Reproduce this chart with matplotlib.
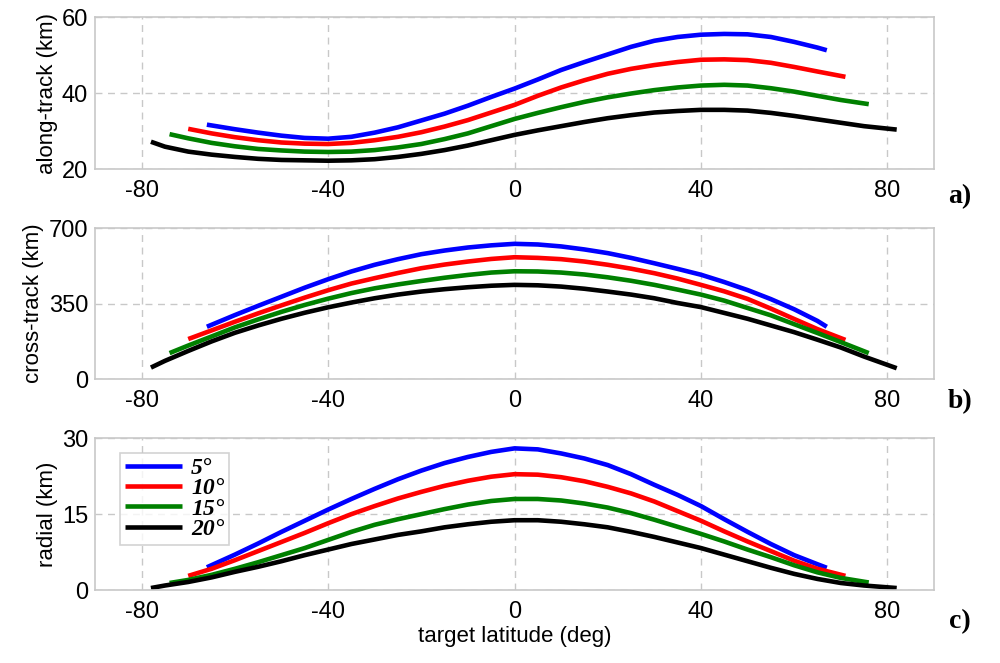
import matplotlib
matplotlib.use("Agg")
import matplotlib.pyplot as plt

# target latitude samples (deg), one list per elevation angle
LAT_5 = [-66, -60, -55, -50, -45, -40, -35, -30, -25, -20, -15, -10, -5, 0,
         5, 10, 15, 20, 25, 30, 35, 40, 45, 50, 55, 60, 65, 67]
LAT_10 = [-70, -65, -60, -55, -50, -45, -40, -35, -30, -25, -20, -15, -10, -5, 0,
          5, 10, 15, 20, 25, 30, 35, 40, 45, 50, 55, 60, 65, 71]
LAT_15 = [-74, -70, -65, -60, -55, -50, -45, -40, -35, -30, -25, -20, -15, -10, -5, 0,
          5, 10, 15, 20, 25, 30, 35, 40, 45, 50, 55, 60, 65, 70, 76]
LAT_20 = [-78, -75, -70, -65, -60, -55, -50, -45, -40, -35, -30, -25, -20, -15, -10, -5, 0,
          5, 10, 15, 20, 25, 30, 35, 40, 45, 50, 55, 60, 65, 70, 75, 82]

# along-track (km)
ALONG_5 = [31.7, 30.5, 29.6, 28.8, 28.2, 28.0, 28.5, 29.6, 31.0, 32.8, 34.6, 36.7, 39.0, 41.2,
           43.6, 46.1, 48.2, 50.2, 52.2, 53.8, 54.8, 55.4, 55.6, 55.5, 54.8, 53.5, 52.0, 51.3]
ALONG_10 = [30.6, 29.4, 28.4, 27.6, 27.0, 26.7, 26.6, 26.9, 27.6, 28.5, 29.7, 31.2, 32.9, 34.9, 36.9,
            39.3, 41.5, 43.4, 45.1, 46.4, 47.4, 48.2, 48.8, 48.9, 48.7, 48.0, 46.9, 45.7, 44.3]
ALONG_15 = [29.2, 28.1, 26.9, 26.0, 25.3, 24.9, 24.6, 24.5, 24.6, 25.0, 25.7, 26.6, 27.9, 29.4, 31.3, 33.2,
            34.8, 36.3, 37.7, 38.9, 39.9, 40.8, 41.5, 42.0, 42.2, 42.0, 41.3, 40.4, 39.3, 38.2, 37.1]
ALONG_20 = [27.2, 25.9, 24.6, 23.8, 23.2, 22.7, 22.4, 22.3, 22.2, 22.3, 22.6, 23.2, 24.0, 25.0, 26.2, 27.6, 29.0,
            30.2, 31.3, 32.4, 33.4, 34.2, 34.9, 35.3, 35.6, 35.6, 35.4, 34.8, 34.0, 33.1, 32.2, 31.3, 30.4]

# cross-track (km)
CROSS_5 = [243, 297, 340, 382, 424, 463, 499, 530, 556, 579, 596, 610, 620, 627,
           624, 615, 601, 584, 562, 537, 511, 484, 450, 413, 371, 324, 270, 243]
CROSS_10 = [186, 226, 266, 305, 342, 378, 412, 443, 468, 492, 514, 531, 545, 557, 565,
            562, 556, 545, 530, 512, 491, 466, 437, 407, 372, 327, 279, 232, 182]
CROSS_15 = [121, 156, 198, 240, 277, 312, 344, 373, 399, 421, 439, 455, 470, 483, 494, 500,
            499, 494, 485, 472, 456, 437, 415, 392, 364, 330, 296, 255, 214, 172, 121]
CROSS_20 = [54, 85, 131, 175, 215, 249, 280, 308, 333, 355, 375, 392, 406, 417, 426, 433, 437,
            435, 429, 419, 406, 392, 375, 353, 334, 307, 280, 249, 218, 183, 147, 105, 51]

# radial (km)
RADIAL_5 = [4.5, 7.0, 9.2, 11.5, 13.7, 15.9, 18.0, 20.0, 21.9, 23.6, 25.1, 26.3, 27.3, 28.0,
            27.8, 27.0, 26.0, 24.7, 22.9, 20.8, 18.8, 16.6, 14.0, 11.5, 9.1, 6.9, 5.1, 4.4]
RADIAL_10 = [2.8, 4.2, 5.9, 7.7, 9.5, 11.3, 13.2, 15.0, 16.6, 18.1, 19.4, 20.6, 21.6, 22.4, 22.9,
             22.8, 22.3, 21.5, 20.4, 19.1, 17.5, 15.6, 13.7, 11.6, 9.6, 7.7, 5.8, 4.2, 2.8]
RADIAL_15 = [1.4, 2.0, 3.0, 4.2, 5.5, 6.9, 8.3, 9.9, 11.5, 12.9, 14.0, 15.0, 16.0, 16.9, 17.6, 18.0,
             18.0, 17.7, 17.1, 16.3, 15.2, 13.9, 12.5, 11.1, 9.6, 8.0, 6.5, 4.9, 3.5, 2.4, 1.5]
RADIAL_20 = [0.4, 0.9, 1.6, 2.5, 3.6, 4.6, 5.7, 6.9, 8.0, 9.1, 10.0, 10.9, 11.6, 12.4, 13.0, 13.5, 13.8,
             13.8, 13.5, 13.0, 12.4, 11.5, 10.5, 9.4, 8.3, 7.0, 5.7, 4.4, 3.2, 2.2, 1.4, 0.9, 0.4]

LABELS = ["5°", "10°", "15°", "20°"]
COLORS = ["#0000ff", "#ff0000", "#008000", "#000000"]
LATS = [LAT_5, LAT_10, LAT_15, LAT_20]

plt.rcParams["font.family"] = ["Liberation Sans", "DejaVu Sans"]
plt.rcParams["axes.unicode_minus"] = False


def style_axis(ax, yticks, ylabel):
    ax.set_xlim(-90, 90)
    ax.set_ylim(yticks[0], yticks[-1])
    ax.set_xticks([-80, -40, 0, 40, 80])
    ax.set_yticks(yticks)
    ax.tick_params(length=0, labelsize=17)
    ax.tick_params(axis="x", pad=8)
    ax.tick_params(axis="y", pad=5)
    ax.grid(True, color="#c8c8c8", linestyle=(0, (5, 4)), linewidth=1)
    ax.set_axisbelow(True)
    for s in ax.spines.values():
        s.set_color("#c8c8c8")
        s.set_linewidth(1.2)
    ax.set_ylabel(ylabel, fontsize=16, labelpad=3)


def plot_panels():
    fig = plt.figure(figsize=(10, 6.63), dpi=100)
    ax1 = fig.add_axes([0.095, 0.745, 0.839, 0.229])
    ax2 = fig.add_axes([0.095, 0.428, 0.839, 0.228])
    ax3 = fig.add_axes([0.095, 0.110, 0.839, 0.229])

    panels = [
        (ax1, [ALONG_5, ALONG_10, ALONG_15, ALONG_20], [20, 40, 60], "along-track (km)", "a)", 0.704),
        (ax2, [CROSS_5, CROSS_10, CROSS_15, CROSS_20], [0, 350, 700], "cross-track (km)", "b)", 0.394),
        (ax3, [RADIAL_5, RADIAL_10, RADIAL_15, RADIAL_20], [0, 15, 30], "radial (km)", "c)", 0.063),
    ]
    for ax, series, yt, yl, tag, ty in panels:
        for lat, vals, c, lab in zip(LATS, series, COLORS, LABELS):
            ax.plot(lat, vals, color=c, linewidth=3.3, label=lab, solid_capstyle="butt")
        style_axis(ax, yt, yl)
        fig.text(0.960, ty, tag, fontsize=20, fontweight="bold",
                 family="Liberation Serif", ha="center", va="center")

    ax3.set_xlabel("target latitude (deg)", fontsize=16, labelpad=2)
    leg = ax3.legend(loc="upper left", bbox_to_anchor=(0.030, 0.905), fancybox=False,
                     edgecolor="#c8c8c8", handlelength=2.4, handletextpad=0.4,
                     borderpad=0.2, labelspacing=-0.05, borderaxespad=0,
                     prop={"family": "Liberation Serif", "weight": "bold",
                           "style": "italic", "size": 17})
    leg.get_frame().set_linewidth(1.2)

    fig.savefig("out.png", dpi=100)


if __name__ == "__main__":
    plot_panels()
